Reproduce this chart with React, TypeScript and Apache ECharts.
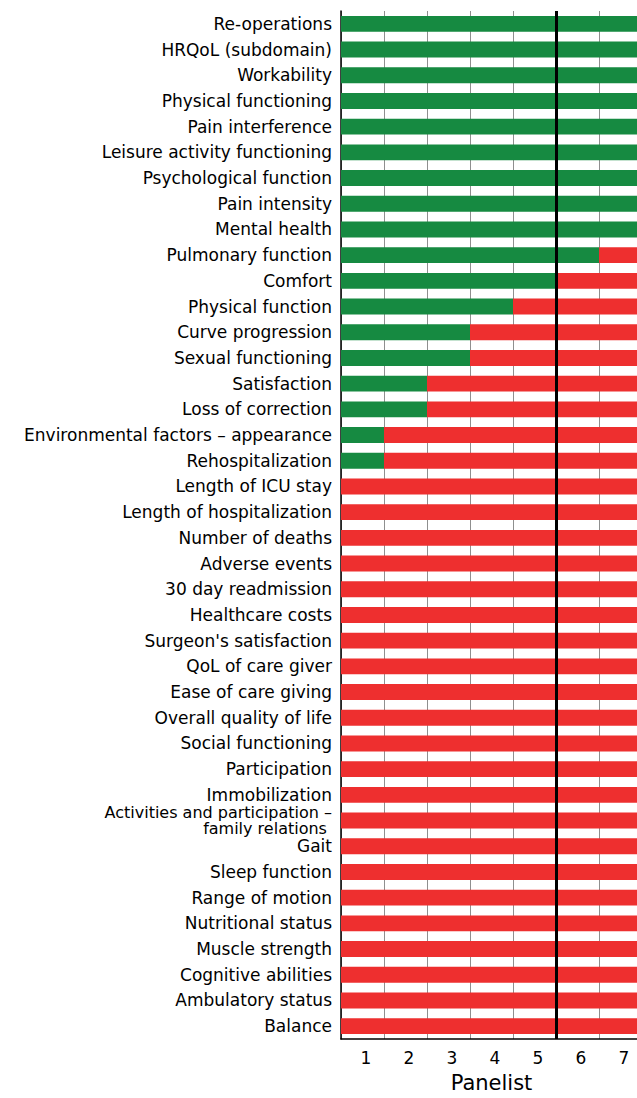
import React, { useEffect, useRef } from "react";
import * as echarts from "echarts";

const categories = [
  "Re-operations",
  "HRQoL (subdomain)",
  "Workability",
  "Physical functioning",
  "Pain interference",
  "Leisure activity functioning",
  "Psychological function",
  "Pain intensity",
  "Mental health",
  "Pulmonary function",
  "Comfort",
  "Physical function",
  "Curve progression",
  "Sexual functioning",
  "Satisfaction",
  "Loss of correction",
  "Environmental factors – appearance",
  "Rehospitalization",
  "Length of ICU stay",
  "Length of hospitalization",
  "Number of deaths",
  "Adverse events",
  "30 day readmission",
  "Healthcare costs",
  "Surgeon's satisfaction",
  "QoL of care giver",
  "Ease of care giving",
  "Overall quality of life",
  "Social functioning",
  "Participation",
  "Immobilization",
  "Activities and participation –\nfamily relations ",
  "Gait",
  "Sleep function",
  "Range of motion",
  "Nutritional status",
  "Muscle strength",
  "Cognitive abilities",
  "Ambulatory status",
  "Balance",
];

const greenValues = [
  7, 7, 7, 7, 7, 7, 7, 7, 7, 6, 5, 4, 3, 3, 2, 2, 1, 1,
  0, 0, 0, 0, 0, 0, 0, 0, 0, 0, 0, 0, 0, 0, 0, 0, 0, 0, 0, 0, 0, 0,
];

const redValues = [
  0, 0, 0, 0, 0, 0, 0, 0, 0, 1, 2, 3, 4, 4, 5, 5, 6, 6,
  7, 7, 7, 7, 7, 7, 7, 7, 7, 7, 7, 7, 7, 7, 7, 7, 7, 7, 7, 7, 7, 7,
];

const panelistLabels = ["1", "2", "3", "4", "5", "6", "7"];
const thresholdPanelist = 5;

const FONT = "DejaVu Sans, Liberation Sans, Arial, sans-serif";

export default function App() {
  const ref = useRef<HTMLDivElement>(null);

  useEffect(() => {
    if (!ref.current) return;
    const chart = echarts.init(ref.current, undefined, { renderer: "svg" });
    chart.setOption({
      animation: false,
      backgroundColor: "#ffffff",
      grid: { left: 341, right: 8, top: 11, bottom: 53, containLabel: false },
      xAxis: [
        {
          type: "value",
          min: 0,
          max: 7,
          interval: 1,
          position: "bottom",
          axisLine: { show: true, lineStyle: { color: "#000", width: 1.5 } },
          axisTick: { show: false },
          axisLabel: { show: false },
          splitLine: { show: true, lineStyle: { color: "#8f8f8f", width: 1 } },
        },
        {
          type: "category",
          data: panelistLabels,
          position: "bottom",
          boundaryGap: true,
          axisLine: { show: false },
          axisTick: { show: false },
          splitLine: { show: false },
          axisLabel: {
            show: true,
            margin: 10,
            color: "#000",
            fontSize: 17,
            fontFamily: FONT,
            padding: [0, 0, 0, 7],
          },
          name: "Panelist",
          nameLocation: "middle",
          nameGap: 33,
          nameTextStyle: { color: "#000", fontSize: 21, fontFamily: FONT },
        },
      ],
      yAxis: {
        type: "category",
        data: categories,
        inverse: true,
        axisLine: { show: true, lineStyle: { color: "#000", width: 1.5 } },
        axisTick: { show: false },
        splitLine: { show: false },
        axisLabel: {
          color: "#000",
          fontSize: 17,
          fontFamily: FONT,
          margin: 9,
          lineHeight: 17,
          interval: 0,
          formatter: (value: string) =>
            value.indexOf("\n") >= 0
              ? value
                  .split("\n")
                  .map((s) => `{m|${s}}`)
                  .join("\n")
              : value,
          rich: {
            m: {
              fontSize: 16,
              lineHeight: 16,
              fontFamily: FONT,
              color: "#000",
            },
          },
        },
      },
      series: [
        {
          name: "Yes",
          type: "bar",
          stack: "total",
          xAxisIndex: 0,
          data: greenValues,
          barCategoryGap: "38%",
          itemStyle: { color: "#168a41" },
          markLine: {
            silent: true,
            symbol: "none",
            label: { show: false },
            lineStyle: { color: "#000", width: 3, type: "solid" },
            data: [{ xAxis: thresholdPanelist }],
            z: 10,
          },
        },
        {
          name: "No",
          type: "bar",
          stack: "total",
          xAxisIndex: 0,
          data: redValues,
          barCategoryGap: "38%",
          itemStyle: { color: "#ee2f2f" },
        },
      ],
    });
    return () => chart.dispose();
  }, []);

  return (
    <div
      style={{
        position: "fixed",
        left: 0,
        top: 0,
        width: 637,
        height: 1098,
        overflow: "hidden",
        background: "#fff",
      }}
    >
      <div ref={ref} style={{ width: 650, height: 1098 }} />
    </div>
  );
}
